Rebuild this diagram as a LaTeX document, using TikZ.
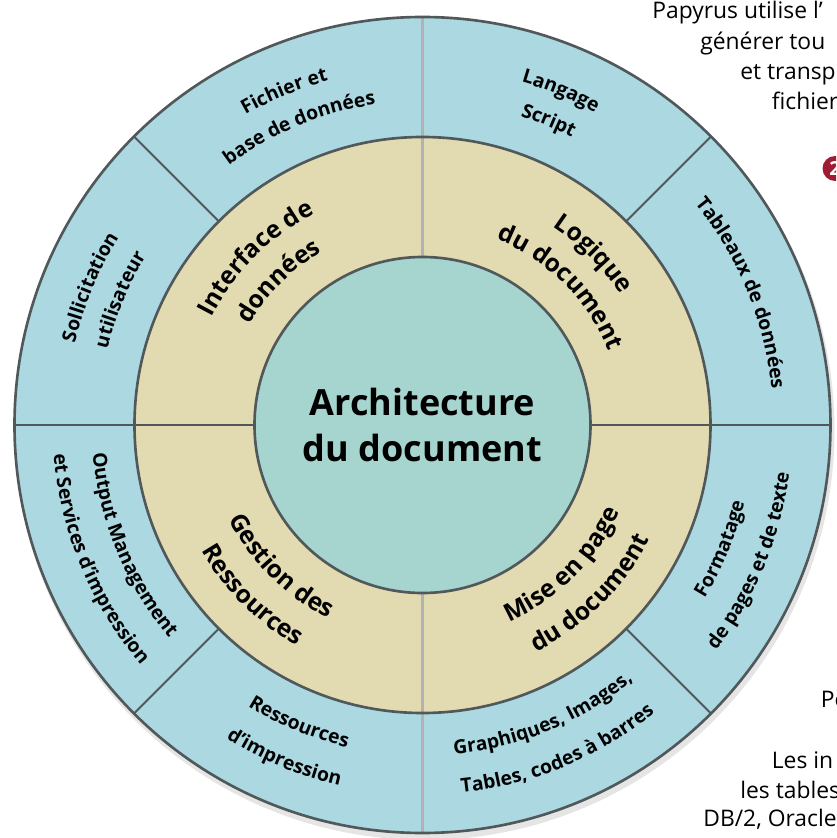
\documentclass[tikz,border=0pt]{standalone}
\usepackage{fontspec}
\setmainfont{Open Sans}
\usetikzlibrary{decorations.text}

\definecolor{ringblue}{RGB}{172,216,226}
\definecolor{ringtan}{RGB}{226,219,178}
\definecolor{coreteal}{RGB}{166,212,206}
\definecolor{rimgray}{RGB}{80,88,90}
\definecolor{badgered}{RGB}{158,28,52}

\newcommand\corefont{\bfseries\fontsize{20.5}{26}\selectfont}
\newcommand\tanfont{\bfseries\fontsize{14}{16}\selectfont}
\newcommand\bluefont{\bfseries\fontsize{11}{13}\selectfont}

\begin{document}
\begin{tikzpicture}[x=0.02cm, y=0.02cm,
        % styles
        rim/.style = {
                draw=rimgray, line width=1.5pt
            },
        spoke/.style = {
                draw=rimgray, line width=1.2pt
            },
        lightspoke/.style = {
                draw=gray!60, line width=1.2pt
            },
        curved/.style = {
                decorate, decoration={text along path, text align=center, text={#1}}
            },
        page/.style = {
                anchor=base west, inner sep=0pt, font=\fontsize{13}{16}\selectfont
            }]

    \useasboundingbox (-422.5,-413) rectangle (413.5,425);

    % rings
    \fill[gray!20] (2,-5) circle[radius=410];
    \fill[ringblue] (0,0) circle[radius=408];
    \fill[ringtan] (0,0) circle[radius=288];
    \fill[coreteal] (0,0) circle[radius=168];

    \foreach \a in {45,135,225,315}
        \draw[spoke] (\a:288) -- (\a:408);
    \draw[spoke] (0:168) -- (0:408);
    \draw[spoke] (180:168) -- (180:408);
    \draw[lightspoke] (90:168) -- (90:408);
    \draw[lightspoke] (270:168) -- (270:408);

    \draw[rim] (0,0) circle[radius=408];
    \draw[rim] (0,0) circle[radius=288];
    \draw[rim] (0,0) circle[radius=168];

    \node (core) [align=center, font=\corefont] at (0,0) {Architecture\\du document};

    % inner ring
    \path[curved={|\tanfont|Interface de}] (180:237) arc[start angle=180, end angle=90, radius=237];
    \path[curved={|\tanfont|données}] (180:200) arc[start angle=180, end angle=90, radius=200];
    \path[curved={|\tanfont|Logique}] (90:237) arc[start angle=90, end angle=0, radius=237];
    \path[curved={|\tanfont|du document}] (90:200) arc[start angle=90, end angle=0, radius=200];
    \path[curved={|\tanfont|Gestion des}] (180:215) arc[start angle=180, end angle=270, radius=215];
    \path[curved={|\tanfont|Ressources}] (180:254) arc[start angle=180, end angle=270, radius=254];
    \path[curved={|\tanfont|Mise en page}] (270:215) arc[start angle=270, end angle=360, radius=215];
    \path[curved={|\tanfont|du document}] (270:254) arc[start angle=270, end angle=360, radius=254];

    % outer ring
    \path[curved={|\bluefont|Fichier et}] (135:357) arc[start angle=135, end angle=90, radius=357];
    \path[curved={|\bluefont|base de données}] (135:324) arc[start angle=135, end angle=90, radius=324];
    \path[curved={|\bluefont|Langage}] (90:357) arc[start angle=90, end angle=45, radius=357];
    \path[curved={|\bluefont|Script}] (90:324) arc[start angle=90, end angle=45, radius=324];
    \path[curved={|\bluefont|Tableaux de données}] (45:351) arc[start angle=45, end angle=0, radius=351];
    \path[curved={|\bluefont|Formatage}] (315:331) arc[start angle=315, end angle=360, radius=331];
    \path[curved={|\bluefont|de pages et de texte}] (315:370) arc[start angle=315, end angle=360, radius=370];
    \path[curved={|\bluefont|Graphiques, Images,}] (270:331) arc[start angle=270, end angle=315, radius=331];
    \path[curved={|\bluefont|Tables, codes à barres}] (270:370) arc[start angle=270, end angle=315, radius=370];
    \path[curved={|\bluefont|Ressources}] (225:331) arc[start angle=225, end angle=270, radius=331];
    \path[curved={|\bluefont|d’impression}] (225:370) arc[start angle=225, end angle=270, radius=370];
    \path[curved={|\bluefont|Output Management}] (180:331) arc[start angle=180, end angle=225, radius=331];
    \path[curved={|\bluefont|et Services d’impression}] (180:370) arc[start angle=180, end angle=225, radius=370];
    \path[curved={|\bluefont|Sollicitation}] (180:357) arc[start angle=180, end angle=135, radius=357];
    \path[curved={|\bluefont|utilisateur}] (180:324) arc[start angle=180, end angle=135, radius=324];

    % page text beside the figure
    \begin{scope}
        \clip (-422.5,-413) rectangle (413.5,425);
        \node (line1) [page] at (229.5,406.5) {Papyrus utilise l’};
        \node (line2) [page] at (277.5,375) {générer tou};
        \node (line3) [page] at (317.5,345) {et transp};
        \node (line4) [page] at (349,315) {fichier};
        \node (badge) [circle, fill=badgered, text=white, inner sep=0pt, minimum size=0.5cm,
            font=\bfseries\fontsize{11}{11}\selectfont] at (412.5,256.5) {2};
        \node (line5) [page] at (398,-282) {Pe};
        \node (line6) [page] at (349,-343) {Les in};
        \node (line7) [page] at (317.5,-373) {les tables};
        \node (line8) [page] at (280.5,-401) {DB/2, Oracle};
    \end{scope}
\end{tikzpicture}
\end{document}
